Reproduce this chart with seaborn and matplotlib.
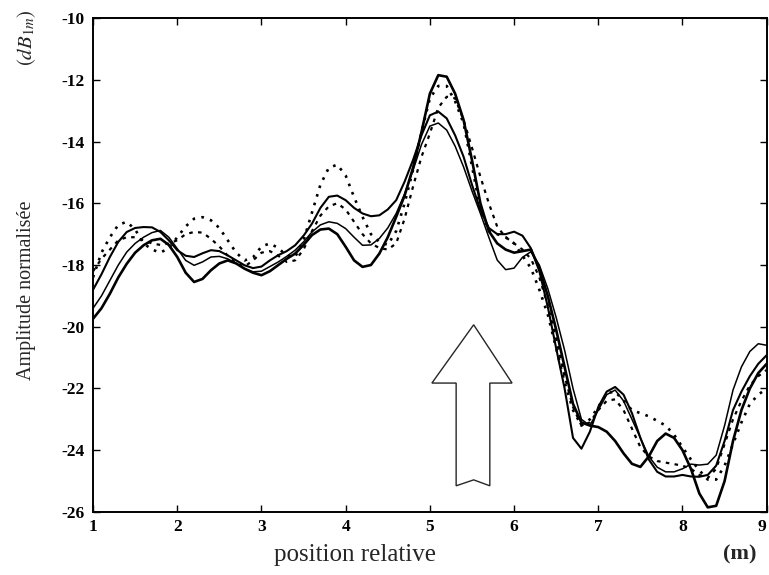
import numpy as np
import pandas as pd
import matplotlib.pyplot as plt
import seaborn as sns
from matplotlib.patches import Polygon

# positions along the measurement line (m), one reading every 0.1 m
position = np.linspace(1, 9, 81)

# three solid curves (thick, medium, thin)
amp_thick = [
    -19.74, -19.40, -18.93, -18.40, -17.96, -17.60, -17.36, -17.20, -17.15, -17.35,
    -17.74, -18.25, -18.55, -18.45, -18.17, -17.95, -17.85, -17.95, -18.12, -18.25,
    -18.33, -18.20, -18.00, -17.80, -17.63, -17.35, -17.03, -16.85, -16.82, -17.00,
    -17.41, -17.85, -18.06, -18.00, -17.63, -17.10, -16.44, -15.75, -14.85, -13.70,
    -12.45, -11.85, -11.90, -12.45, -13.30, -14.60, -16.00, -16.90, -17.30, -17.50,
    -17.60, -17.55, -17.50, -18.10, -19.00, -20.10, -21.30, -22.50, -23.10, -23.20,
    -23.25, -23.40, -23.70, -24.10, -24.44, -24.54, -24.20, -23.70, -23.46, -23.60,
    -24.00, -24.60, -25.40, -25.85, -25.80, -25.00, -23.70, -22.70, -22.00, -21.50,
    -21.20]
amp_medium = [
    -18.80, -18.30, -17.74, -17.25, -16.93, -16.80, -16.77, -16.78, -16.93, -17.20,
    -17.52, -17.70, -17.74, -17.62, -17.52, -17.55, -17.69, -17.85, -18.01, -18.10,
    -18.05, -17.85, -17.68, -17.55, -17.36, -17.05, -16.66, -16.15, -15.79, -15.75,
    -15.90, -16.15, -16.33, -16.42, -16.39, -16.20, -15.90, -15.30, -14.60, -13.80,
    -13.15, -13.03, -13.25, -13.80, -14.49, -15.40, -16.22, -16.80, -17.00, -17.00,
    -16.92, -17.05, -17.46, -18.20, -19.35, -20.70, -22.00, -23.60, -23.95, -23.40,
    -22.60, -22.10, -21.95, -22.20, -22.80, -23.60, -24.30, -24.70, -24.85, -24.85,
    -24.80, -24.85, -24.86, -24.80, -24.50, -23.70, -22.70, -22.10, -21.60, -21.20,
    -20.92]
amp_thin = [
    -19.40, -19.00, -18.50, -18.00, -17.58, -17.30, -17.10, -16.95, -16.88, -17.10,
    -17.47, -17.85, -18.01, -17.90, -17.74, -17.72, -17.80, -17.95, -18.12, -18.22,
    -18.20, -18.05, -17.90, -17.72, -17.52, -17.25, -16.93, -16.70, -16.60, -16.65,
    -16.82, -17.10, -17.36, -17.35, -17.14, -16.80, -16.33, -15.70, -14.93, -14.10,
    -13.50, -13.40, -13.63, -14.15, -14.82, -15.60, -16.33, -17.10, -17.84, -18.15,
    -18.10, -17.75, -17.57, -18.00, -18.76, -19.70, -20.76, -22.00, -23.00, -23.20,
    -22.70, -22.20, -22.05, -22.40, -23.00, -23.60, -24.20, -24.55, -24.70, -24.70,
    -24.60, -24.45, -24.48, -24.45, -24.16, -23.20, -22.05, -21.30, -20.80, -20.55,
    -20.60]
# two dotted curves
amp_dot_a = [
    -18.40, -17.60, -17.10, -16.70, -16.60, -16.85, -17.30, -17.50, -17.60, -17.45,
    -17.10, -16.75, -16.50, -16.45, -16.55, -16.80, -17.20, -17.60, -17.85, -17.75,
    -17.40, -17.30, -17.45, -17.70, -17.74, -17.20, -16.30, -15.40, -14.85, -14.75,
    -15.10, -15.80, -16.44, -17.00, -17.25, -17.35, -16.90, -16.00, -14.92, -13.70,
    -12.60, -12.20, -12.20, -12.70, -13.41, -14.80, -16.20, -16.90, -17.00, -17.10,
    -17.30, -17.70, -18.10, -18.80, -19.60, -20.70, -21.80, -22.70, -23.20, -23.00,
    -22.60, -22.15, -22.10, -22.40, -22.70, -22.80, -22.90, -23.05, -23.20, -23.50,
    -23.90, -24.30, -24.65, -24.95, -24.95, -24.50, -23.80, -23.10, -22.50, -22.20,
    -22.00]
amp_dot_b = [
    -18.20, -17.80, -17.50, -17.20, -17.10, -17.10, -17.20, -17.30, -17.35, -17.30,
    -17.20, -17.00, -16.93, -16.95, -17.15, -17.40, -17.70, -17.95, -18.05, -17.85,
    -17.60, -17.55, -17.70, -17.90, -17.85, -17.50, -16.90, -16.40, -16.10, -16.00,
    -16.20, -16.60, -17.00, -17.30, -17.45, -17.50, -17.30, -16.50, -15.46, -14.50,
    -13.74, -12.90, -12.55, -12.60, -13.30, -14.20, -15.14, -16.00, -16.76, -17.10,
    -17.30, -17.50, -17.80, -18.40, -19.30, -20.40, -21.60, -22.60, -23.20, -23.10,
    -22.70, -22.40, -22.35, -22.70, -23.30, -23.90, -24.20, -24.35, -24.40, -24.45,
    -24.50, -24.60, -24.80, -24.90, -24.60, -23.80, -23.00, -22.40, -21.90, -21.60,
    -21.40]

x_ticks = [1, 2, 3, 4, 5, 6, 7, 8, 9]
y_ticks = [-26, -24, -22, -20, -18, -16, -14, -12, -10]

sns.set_style("ticks")
plt.rcParams["font.family"] = ["Liberation Serif", "DejaVu Serif"]
plt.rcParams["mathtext.fontset"] = "stix"
plt.rcParams["axes.unicode_minus"] = False

fig = plt.figure(figsize=(7.69, 5.75), dpi=100)
ax = fig.add_axes([0.121, 0.1096, 0.876, 0.859])

series = [
    (amp_thick, dict(lw=1.9, linestyle="-")),
    (amp_medium, dict(lw=1.5, linestyle="-")),
    (amp_thin, dict(lw=1.1, linestyle="-")),
    (amp_dot_a, dict(lw=1.9, linestyle=(0, (1, 2.4)))),
    (amp_dot_b, dict(lw=1.6, linestyle=(0, (1.6, 2.4)))),
]
for vals, kw in series:
    sns.lineplot(x=position, y=vals, ax=ax, color="black", **kw)

ax.set_xlim(1, 9)
ax.set_ylim(-26, -10)
ax.set_xticks(x_ticks)
ax.set_yticks(y_ticks)
ax.set_xticklabels([str(v) for v in x_ticks], fontweight="bold", fontsize=12.5)
ax.set_yticklabels([str(v) for v in y_ticks], fontweight="bold", fontsize=12.5)
# last x label sits at the right edge of the figure: keep it inside
ax.get_xticklabels()[-1].set_ha("right")
ax.tick_params(direction="in", length=5, width=1, top=True, right=True, colors="black")
ax.tick_params(axis="x", pad=5)
ax.tick_params(axis="y", pad=6)
for sp in ax.spines.values():
    sp.set_linewidth(1.4)
    sp.set_color("black")
ax.set_xlabel("")
ax.set_ylabel("")

# hollow arrow pointing at the peak
arrow = Polygon([(0.539, 0.053), (0.539, 0.261), (0.503, 0.261), (0.565, 0.379),
                 (0.622, 0.261), (0.589, 0.261), (0.589, 0.053), (0.565, 0.065)],
                closed=True, fill=False, edgecolor="black", lw=1.0,
                transform=ax.transAxes, alpha=0.85)
ax.add_patch(arrow)

fig.text(0.035, 0.495, "Amplitude normalisée", rotation=90, ha="center", va="center",
         fontsize=14.5)
fig.text(0.035, 0.935, r"$(dB_{1m})$", rotation=90, ha="center", va="center",
         fontsize=15)
fig.text(0.462, 0.035, "position relative", ha="center", va="center", fontsize=18)
fig.text(0.962, 0.035, "(m)", ha="center", va="center", fontsize=16, fontweight="bold")

fig.savefig("out.png", dpi=100)
